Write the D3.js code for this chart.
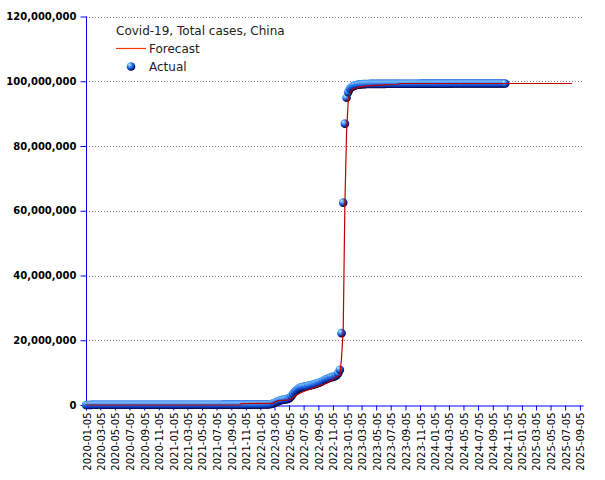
<!DOCTYPE html>
<html>
<head>
<meta charset="utf-8">
<script src="https://cdn.jsdelivr.net/npm/d3@7"></script>
<style>
  html, body { margin: 0; padding: 0; background: #fff; }
  svg { display: block; }
</style>
</head>
<body>
<svg id="chart" width="605" height="480"></svg>
<script>
// ---------------- DATA ----------------
const chartTitle = "Covid-19, Total cases, China";
const seriesNames = ["Forecast", "Actual"];

// Weekly actual observations (Sundays), starting at this date, values in millions
const actualStart = "2020-01-05";
const actualValues = [
  0.00, 0.00, 0.01, 0.03, 0.06, 0.07, 0.08, 0.08, 0.08, 0.08,
  0.08, 0.08, 0.08, 0.08, 0.08, 0.08, 0.08, 0.08, 0.08, 0.08,
  0.08, 0.08, 0.08, 0.08, 0.08, 0.08, 0.08, 0.08, 0.08, 0.08,
  0.09, 0.09, 0.09, 0.09, 0.09, 0.09, 0.09, 0.09, 0.09, 0.09,
  0.09, 0.09, 0.09, 0.09, 0.09, 0.09, 0.09, 0.09, 0.09, 0.09,
  0.09, 0.09,
  0.09, 0.09, 0.09, 0.09, 0.09, 0.09, 0.09, 0.09, 0.09, 0.09,
  0.10, 0.10, 0.10, 0.10, 0.10, 0.10, 0.10, 0.10, 0.10, 0.10,
  0.10, 0.10, 0.10, 0.10, 0.10, 0.10, 0.10, 0.10, 0.10, 0.10,
  0.11, 0.11, 0.11, 0.11, 0.11, 0.11, 0.11, 0.11, 0.11, 0.11,
  0.12, 0.12, 0.12, 0.12, 0.12, 0.12, 0.12, 0.12, 0.12, 0.12,
  0.12, 0.12,
  0.13, 0.14, 0.15, 0.15, 0.16, 0.18, 0.22, 0.30, 0.45, 0.70,
  0.95, 1.15, 1.40, 1.50, 1.60, 1.70, 1.80, 1.90, 2.20, 2.80,
  3.50, 4.10, 4.60, 5.00, 5.30, 5.50, 5.60, 5.70, 5.80, 5.90,
  6.00, 6.15, 6.30, 6.45, 6.60, 6.80, 7.00, 7.20, 7.50, 7.80,
  8.00, 8.20, 8.40, 8.60, 8.70, 8.90, 9.20, 9.80, 10.90,
  22.2, 62.5, 86.9, 94.9, 96.6, 97.7, 98.2, 98.5, 98.7, 98.85,
  98.95, 99.0, 99.05, 99.1, 99.12, 99.15, 99.17,
  99.18, 99.19, 99.2, 99.2, 99.2, 99.2, 99.2, 99.2, 99.2, 99.2,
  99.22, 99.22, 99.22, 99.22, 99.22, 99.22, 99.22, 99.22, 99.22, 99.22,
  99.25, 99.25, 99.25, 99.25, 99.25, 99.25, 99.25, 99.25, 99.25, 99.25,
  99.27, 99.27, 99.27, 99.27, 99.27, 99.27, 99.27, 99.27, 99.27, 99.27,
  99.28, 99.28, 99.28, 99.28, 99.28, 99.28, 99.28, 99.28, 99.28, 99.28,
  99.3, 99.3, 99.3, 99.3, 99.3, 99.3, 99.3, 99.3, 99.3, 99.3,
  99.3, 99.3, 99.3, 99.3, 99.3, 99.3, 99.3, 99.3, 99.3, 99.3,
  99.3, 99.3, 99.3, 99.3, 99.3, 99.3, 99.3, 99.3, 99.3, 99.3,
  99.3, 99.3
];

// Forecast line points (dates and values in millions)
const forecastDates = [
  "2020-01-05", "2021-10-10", "2021-10-17", "2022-01-30", "2022-02-27",
  "2022-03-20", "2022-05-08", "2022-06-05", "2022-07-03", "2022-10-09",
  "2022-12-04", "2022-12-11", "2022-12-18", "2022-12-25", "2023-01-01",
  "2023-01-08", "2023-01-15", "2023-01-29", "2023-03-12", "2023-05-07",
  "2023-07-30", "2023-08-13", "2025-08-03"
];
const forecastValues = [
  0.0, 0.0, 0.45, 0.5, 0.6,
  1.4, 1.6, 3.1, 4.1, 6.7,
  9.3, 14.6, 23.0, 62.0, 84.0,
  93.8, 96.6, 97.7, 98.4, 98.8,
  99.0, 99.3, 99.3
];

const xTickLabels = [
  "2020-01-05","2020-03-05","2020-05-05","2020-07-05","2020-09-05","2020-11-05",
  "2021-01-05","2021-03-05","2021-05-05","2021-07-05","2021-09-05","2021-11-05",
  "2022-01-05","2022-03-05","2022-05-05","2022-07-05","2022-09-05","2022-11-05",
  "2023-01-05","2023-03-05","2023-05-05","2023-07-05","2023-09-05","2023-11-05",
  "2024-01-05","2024-03-05","2024-05-05","2024-07-05","2024-09-05","2024-11-05",
  "2025-01-05","2025-03-05","2025-05-05","2025-07-05","2025-09-05"
];
const yTickValues = [0, 20000000, 40000000, 60000000, 80000000, 100000000, 120000000];
const xDomain = ["2020-01-05", "2025-09-18"];

// ---------------- DRAW ----------------
const parse = d3.utcParse("%Y-%m-%d");
const svg = d3.select("#chart");
const plotLeft = 86, plotRight = 583, plotTop = 16.5, plotBottom = 405;

const x = d3.scaleUtc().domain(xDomain.map(parse)).range([plotLeft, plotRight]);
const y = d3.scaleLinear().domain([0, 120000000]).range([plotBottom, plotTop]);

const start = parse(actualStart);
const actual = actualValues.map((v, i) => ({ date: d3.utcDay.offset(start, i * 7), value: v * 1e6 }));
const forecast = forecastDates.map((d, i) => ({ date: parse(d), value: forecastValues[i] * 1e6 }));

const defs = svg.append("defs");
const grad = defs.append("radialGradient").attr("id", "ball")
  .attr("cx", "38%").attr("cy", "35%").attr("r", "65%").attr("fx", "30%").attr("fy", "28%");
grad.append("stop").attr("offset", "0%").attr("stop-color", "#c8ecff");
grad.append("stop").attr("offset", "35%").attr("stop-color", "#4699f6");
grad.append("stop").attr("offset", "70%").attr("stop-color", "#0d45cc");
grad.append("stop").attr("offset", "100%").attr("stop-color", "#000040");

// gridlines
svg.append("g").selectAll("line")
  .data(yTickValues.filter(v => v > 0))
  .join("line")
  .attr("x1", plotLeft).attr("x2", plotRight)
  .attr("y1", d => Math.round(y(d)) + 0.5).attr("y2", d => Math.round(y(d)) + 0.5)
  .attr("stroke", "#808080").attr("stroke-width", 1).attr("stroke-dasharray", "1,2");

// y axis
const yAxis = d3.axisLeft(y).tickValues(yTickValues).tickFormat(d3.format(",")).tickSize(6).tickPadding(4);
const gy = svg.append("g").attr("transform", `translate(${plotLeft + 0.5},0)`).call(yAxis);
gy.select(".domain").attr("stroke", "#0000ff").attr("d", `M0,${plotTop}V${plotBottom}`);
gy.selectAll(".tick line").attr("stroke", "#0000ff");
gy.selectAll(".tick text")
  .attr("font-family", "DejaVu Sans").attr("font-weight", "bold")
  .attr("font-size", 10).attr("fill", "#000");

// x axis
const tickDates = xTickLabels.map(parse);
const xAxis = d3.axisBottom(x).tickValues(tickDates).tickFormat(d3.utcFormat("%Y-%m-%d")).tickSize(5).tickSizeOuter(0);
const gx = svg.append("g").attr("transform", `translate(0,${plotBottom + 0.5})`).call(xAxis);
gx.select(".domain").attr("stroke", "#0000ff");
gx.selectAll(".tick line").attr("stroke", "#0000ff");
gx.selectAll(".tick text")
  .attr("font-family", "DejaVu Sans").attr("font-size", 10).attr("fill", "#000")
  .attr("text-anchor", "end")
  .attr("transform", "rotate(-90)")
  .attr("x", -7).attr("y", 0).attr("dy", "0.4em");

// actual markers
svg.append("g").selectAll("circle")
  .data(actual)
  .join("circle")
  .attr("cx", d => x(d.date))
  .attr("cy", d => y(d.value))
  .attr("r", 4.3)
  .attr("fill", "url(#ball)");

// forecast line
const line = d3.line().x(d => x(d.date)).y(d => y(d.value));
svg.append("path")
  .datum(forecast)
  .attr("d", line)
  .attr("fill", "none")
  .attr("stroke", "#c00000")
  .attr("stroke-width", 1.2);

// legend
const lg = svg.append("g");
lg.append("text").attr("x", 116).attr("y", 35).text(chartTitle)
  .attr("font-family", "DejaVu Sans").attr("font-size", 12).attr("fill", "#222");
lg.append("line").attr("x1", 116).attr("x2", 146).attr("y1", 48.5).attr("y2", 48.5)
  .attr("stroke", "#ff3a00").attr("stroke-width", 1.2);
lg.append("text").attr("x", 149).attr("y", 52.5).text(seriesNames[0])
  .attr("font-family", "DejaVu Sans").attr("font-size", 12).attr("fill", "#222");
lg.append("circle").attr("cx", 131).attr("cy", 66.5).attr("r", 4.3).attr("fill", "url(#ball)");
lg.append("text").attr("x", 149).attr("y", 71).text(seriesNames[1])
  .attr("font-family", "DejaVu Sans").attr("font-size", 12).attr("fill", "#222");
</script>
</body>
</html>
